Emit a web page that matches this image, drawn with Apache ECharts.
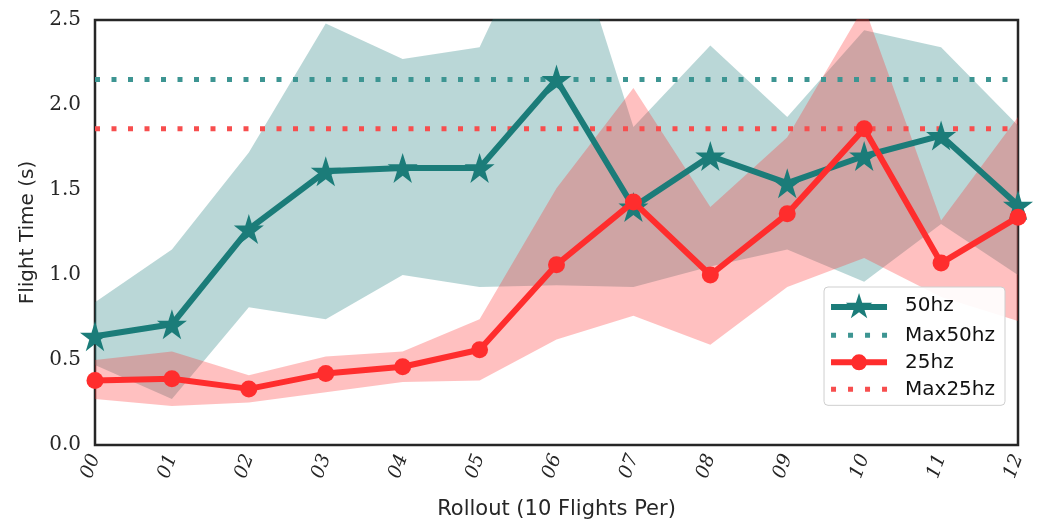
<!DOCTYPE html>
<html>
<head>
<meta charset="utf-8">
<script src="https://cdn.jsdelivr.net/npm/echarts@6/dist/echarts.min.js"></script>
<style>
  html, body { margin: 0; padding: 0; background: #fff; }
  #chart { width: 1050px; height: 525px; }
</style>
</head>
<body>
<div id="chart"></div>
<script>
var rollouts = ['00', '01', '02', '03', '04', '05', '06', '07', '08', '09', '10', '11', '12'];

// mean flight time per rollout
var hz50 = [0.64, 0.71, 1.27, 1.61, 1.63, 1.63, 2.15, 1.40, 1.70, 1.54, 1.70, 1.82, 1.41];
var hz25 = [0.38, 0.39, 0.33, 0.42, 0.46, 0.56, 1.06, 1.43, 1.00, 1.36, 1.86, 1.07, 1.34];

// shaded band edges
var hz50Low  = [0.47, 0.27, 0.81, 0.74, 1.00, 0.93, 0.94, 0.93, 1.05, 1.15, 0.96, 1.30, 1.00];
var hz50High = [0.84, 1.15, 1.72, 2.48, 2.27, 2.34, 3.30, 1.87, 2.35, 1.93, 2.44, 2.34, 1.88];
var hz25Low  = [0.27, 0.23, 0.25, 0.31, 0.37, 0.38, 0.62, 0.76, 0.59, 0.93, 1.10, 0.87, 0.73];
var hz25High = [0.50, 0.55, 0.41, 0.52, 0.55, 0.74, 1.51, 2.10, 1.40, 1.81, 2.58, 1.32, 1.93];

var max50 = 2.15;
var max25 = 1.86;

var teal = '#1b7c79';
var red = '#ff2d2d';
var tealDot = '#3d9592';
var redDot = '#f74e4e';

var chartDom = document.getElementById('chart');
var chart = echarts.init(chartDom);

function diff(hi, lo) {
  return hi.map(function (v, i) { return +(v - lo[i]).toFixed(3); });
}

// star outline as svg path, clockwise
function starPath(cx, cy, R) {
  var r = R * 0.382, s = '';
  for (var i = 0; i < 10; i++) {
    var a = -Math.PI / 2 + i * Math.PI / 5;
    var rr = i % 2 ? r : R;
    s += (i ? 'L' : 'M') + (cx + rr * Math.cos(a)).toFixed(2) + ',' + (cy + rr * Math.sin(a)).toFixed(2);
  }
  return s + 'Z';
}

var starIcon = 'path://M0,11H56V17H0Z' + starPath(28, 14, 14);
var circleIcon = 'path://M0,11H56V17H0Z M20,14A8,8 0 1,1 36,14A8,8 0 1,1 20,14Z';
var dotIcon = 'path://M0,0H5V5H0Z M17,0H22V5H17Z M34,0H39V5H34Z M51,0H56V5H51Z';

var option = {
  animation: false,
  backgroundColor: '#fff',
  grid: {
    left: 95,
    right: 32,
    top: 20,
    bottom: 79,
    show: true,
    borderColor: '#262626',
    borderWidth: 2.5,
    backgroundColor: 'transparent'
  },
  legend: {
    right: 45,
    top: 287,
    z: 10,
    orient: 'vertical',
    backgroundColor: 'rgba(255,255,255,0.92)',
    borderColor: '#cfcfcf',
    borderWidth: 1,
    borderRadius: 4,
    padding: [6, 10, 6, 7],
    itemGap: 7,
    itemWidth: 56,
    itemHeight: 28,
    textStyle: { fontFamily: 'DejaVu Sans', fontSize: 20, color: '#111', padding: [0, 0, 0, 13] },
    data: [
      { name: '50hz', icon: starIcon },
      { name: 'Max50hz', icon: dotIcon },
      { name: '25hz', icon: circleIcon },
      { name: 'Max25hz', icon: dotIcon }
    ]
  },
  xAxis: {
    type: 'category',
    data: rollouts,
    boundaryGap: false,
    name: 'Rollout (10 Flights Per)',
    nameLocation: 'middle',
    nameGap: 54,
    nameTextStyle: { fontFamily: 'DejaVu Sans', fontSize: 21, color: '#262626' },
    axisLine: { show: false },
    axisTick: { show: false },
    axisLabel: {
      rotate: 70,
      margin: 10,
      fontFamily: 'DejaVu Serif',
      fontStyle: 'italic',
      fontSize: 19,
      color: '#262626'
    },
    splitLine: { show: false }
  },
  yAxis: {
    type: 'value',
    min: 0,
    max: 2.5,
    interval: 0.5,
    name: 'Flight Time (s)',
    nameLocation: 'middle',
    nameGap: 56,
    nameTextStyle: { fontFamily: 'DejaVu Sans', fontSize: 20, color: '#262626' },
    axisLine: { show: false },
    axisTick: { show: false },
    axisLabel: {
      margin: 14,
      fontFamily: 'DejaVu Serif',
      fontSize: 20,
      color: '#262626',
      formatter: function (v) { return v.toFixed(1); }
    },
    splitLine: { show: false }
  },
  series: [
    {
      name: 'band50base',
      type: 'line',
      stack: 'b50',
      data: hz50Low,
      symbol: 'none',
      lineStyle: { opacity: 0 },
      silent: true
    },
    {
      name: 'band50',
      type: 'line',
      stack: 'b50',
      data: diff(hz50High, hz50Low),
      symbol: 'none',
      lineStyle: { opacity: 0 },
      areaStyle: { color: teal, opacity: 0.3 },
      silent: true
    },
    {
      name: 'band25base',
      type: 'line',
      stack: 'b25',
      data: hz25Low,
      symbol: 'none',
      lineStyle: { opacity: 0 },
      silent: true
    },
    {
      name: 'band25',
      type: 'line',
      stack: 'b25',
      data: diff(hz25High, hz25Low),
      symbol: 'none',
      lineStyle: { opacity: 0 },
      areaStyle: { color: red, opacity: 0.3 },
      silent: true
    },
    {
      name: 'Max50hz',
      type: 'line',
      data: rollouts.map(function () { return max50; }),
      symbol: 'none',
      itemStyle: { color: tealDot },
      lineStyle: { color: tealDot, width: 5, type: [5, 11.5], cap: 'butt' }
    },
    {
      name: 'Max25hz',
      type: 'line',
      data: rollouts.map(function () { return max25; }),
      symbol: 'none',
      itemStyle: { color: redDot },
      lineStyle: { color: redDot, width: 5, type: [5, 11.5], cap: 'butt' }
    },
    {
      name: '50hz',
      type: 'line',
      data: hz50,
      symbol: 'path://' + starPath(50, 50, 50),
      symbolSize: 30,
      showAllSymbol: true,
      itemStyle: { color: teal },
      lineStyle: { color: teal, width: 6 },
      z: 5
    },
    {
      name: '25hz',
      type: 'line',
      data: hz25,
      symbol: 'circle',
      symbolSize: 17,
      showAllSymbol: true,
      itemStyle: { color: red },
      lineStyle: { color: red, width: 6 },
      z: 6
    }
  ]
};

chart.setOption(option);
</script>
</body>
</html>
